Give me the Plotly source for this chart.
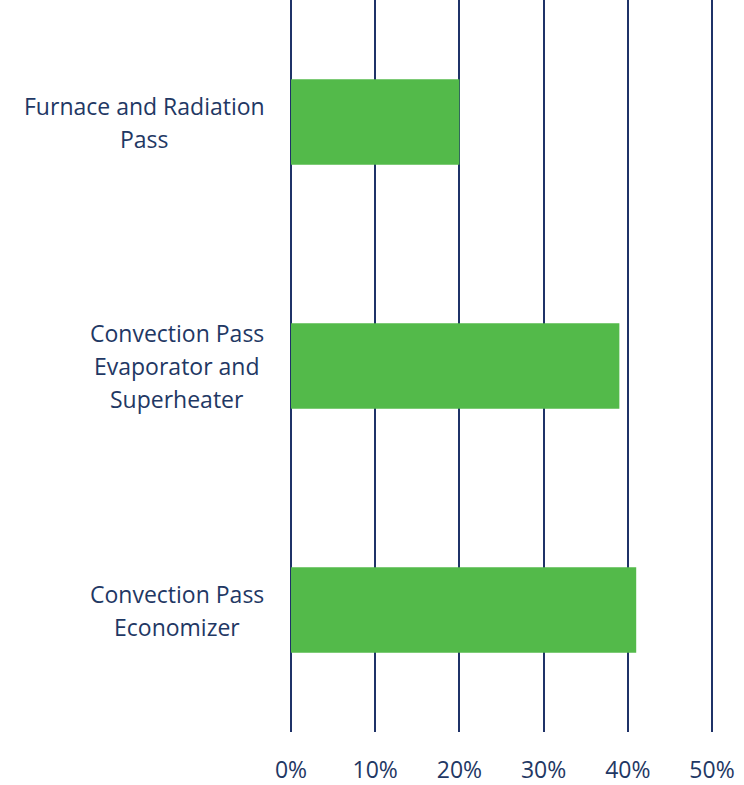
import plotly.graph_objects as go

# Share of heat absorbed by each boiler section
categories = [
    "Furnace and Radiation<br>Pass",
    "Convection Pass<br>Evaporator and<br>Superheater",
    "Convection Pass<br>Economizer",
]
shares = [0.20, 0.39, 0.41]
tick_values = [0, 0.1, 0.2, 0.3, 0.4, 0.5]
tick_labels = ["0%", "10%", "20%", "30%", "40%", "50%"]

NAVY = "#1F3268"
TEXT = "#1F3864"
GREEN = "#53BA4A"
FONT = "Open Sans"
FONT_SIZE = 23
LINE_GAP = 33  # px between label lines

fig = go.Figure(
    go.Bar(
        x=shares,
        y=categories,
        orientation="h",
        marker=dict(color=GREEN, line=dict(width=0)),
        width=0.35,
        hoverinfo="skip",
    )
)

# Category labels: each line centred over the block centre, block right edge near 265px
block_centres = {categories[0]: 144, categories[1]: 177, categories[2]: 177}
annotations = []
for cat in categories:
    lines = cat.split("<br>")
    n = len(lines)
    for i, line in enumerate(lines):
        annotations.append(
            dict(
                x=0, xref="paper", xanchor="center",
                y=cat, yref="y", yanchor="middle",
                xshift=block_centres[cat] - 290,
                yshift=((n - 1) / 2 - i) * LINE_GAP,
                text=line, showarrow=False,
                font=dict(family=FONT, size=FONT_SIZE, color=TEXT),
            )
        )

pad = 0.0012  # keeps the 0% and 50% gridlines inside the plot area
fig.update_layout(
    width=744,
    height=785,
    margin=dict(l=290, r=31, t=0, b=43),
    paper_bgcolor="white",
    plot_bgcolor="white",
    showlegend=False,
    annotations=annotations,
    xaxis=dict(
        range=[-pad, 0.5 + pad],
        tickvals=tick_values,
        ticktext=tick_labels,
        showgrid=True,
        gridcolor=NAVY,
        gridwidth=2,
        zeroline=False,
        showline=False,
        ticks="",
        ticklabelstandoff=22,
        tickfont=dict(family=FONT, size=FONT_SIZE, color=TEXT),
        fixedrange=True,
    ),
    yaxis=dict(
        categoryorder="array",
        categoryarray=categories[::-1],
        showticklabels=False,
        showgrid=False,
        zeroline=False,
        showline=False,
        ticks="",
        range=[-0.5, 2.5],
        fixedrange=True,
    ),
)

fig.write_html("out.html")
